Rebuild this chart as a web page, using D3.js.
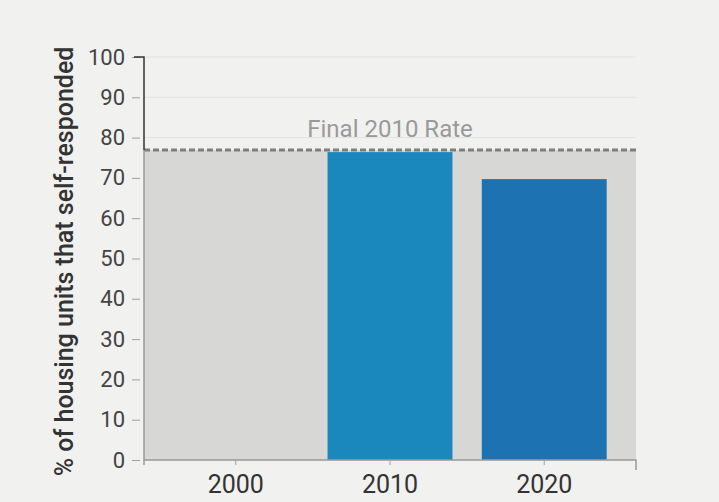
<!DOCTYPE html>
<html>
<head>
<meta charset="utf-8">
<script src="https://cdn.jsdelivr.net/npm/d3@7"></script>
<style>
  html, body { margin: 0; padding: 0; background: #f1f1f0; }
  svg { display: block; font-family: Roboto, "Noto Sans", sans-serif; }
</style>
</head>
<body>
<svg id="chart" width="719" height="502"></svg>
<script>
// Census years and self-response rates (%)
const years = ['2000', '2010', '2020'];
const rates = [null, 76.4, 69.7];
const barColors = ['#1a87bd', '#1a87bd', '#1d72b1'];
const finalRate2010 = 76.9;
const yTicks = [0, 10, 20, 30, 40, 50, 60, 70, 80, 90, 100];
const yTitle = '% of housing units that self-responded';
const refLabel = 'Final 2010 Rate';

const width = 719;
const height = 502;
const margin = { top: 57, right: 83, bottom: 42, left: 144 };

const svg = d3.select('#chart');

const x = d3.scaleBand()
  .domain(years)
  .range([margin.left, width - margin.right])
  .paddingInner(0.19)
  .paddingOuter(0.19);

const y = d3.scaleLinear()
  .domain([0, 100])
  .range([height - margin.bottom, margin.top]);

const plotLeft = margin.left;
const plotRight = width - margin.right;

// faint grid lines
svg.append('g')
  .selectAll('line')
  .data(yTicks)
  .join('line')
  .attr('x1', plotLeft)
  .attr('x2', plotRight)
  .attr('y1', d => y(d))
  .attr('y2', d => y(d))
  .attr('stroke', '#e3e3e3')
  .attr('stroke-width', 1);

// gray region up to the final 2010 rate
svg.append('rect')
  .attr('x', plotLeft)
  .attr('y', y(finalRate2010))
  .attr('width', plotRight - plotLeft)
  .attr('height', y(0) - y(finalRate2010))
  .attr('fill', '#d7d7d6');

// bars
const bars = years.map((yr, i) => ({ year: yr, value: rates[i], color: barColors[i] }))
  .filter(d => d.value != null);

svg.append('g')
  .selectAll('rect')
  .data(bars)
  .join('rect')
  .attr('x', d => x(d.year))
  .attr('y', d => y(d.value))
  .attr('width', x.bandwidth())
  .attr('height', d => y(0) - y(d.value))
  .attr('fill', d => d.color);

// reference dashed line
svg.append('line')
  .attr('x1', plotLeft)
  .attr('x2', plotRight + 2)
  .attr('y1', y(finalRate2010))
  .attr('y2', y(finalRate2010))
  .attr('stroke', '#7f7f7f')
  .attr('stroke-width', 3)
  .attr('stroke-dasharray', '6,3');

svg.append('text')
  .attr('x', x('2010') + x.bandwidth() / 2)
  .attr('y', y(finalRate2010) - 13)
  .attr('text-anchor', 'middle')
  .attr('fill', '#9a9a9a')
  .style('font-size', '24px')
  .text(refLabel);

// y axis
const yAxis = d3.axisLeft(y)
  .tickValues(yTicks)
  .tickSize(8)
  .tickPadding(11);

const gy = svg.append('g')
  .attr('transform', `translate(${plotLeft},0)`)
  .call(yAxis);
gy.select('.domain').remove();
gy.selectAll('.tick line').attr('stroke', '#a0a0a0').attr('x2', -12).attr('x1', -4);
gy.selectAll('.tick text')
  .attr('fill', '#444')
  .style('font-size', '22px')
  .style('font-family', 'Roboto, sans-serif');

// dark axis segment from 100 down to the reference line, gray below
svg.append('path')
  .attr('d', `M${plotLeft - 10},${y(100)}H${plotLeft}V${y(finalRate2010)}`)
  .attr('fill', 'none')
  .attr('stroke', '#333')
  .attr('stroke-width', 1.5);
svg.append('line')
  .attr('x1', plotLeft)
  .attr('x2', plotLeft)
  .attr('y1', y(finalRate2010))
  .attr('y2', y(0) + 5)
  .attr('stroke', '#9a9a9a')
  .attr('stroke-width', 1.5);

// x axis
const xAxis = d3.axisBottom(x)
  .tickSize(5)
  .tickPadding(10);

const gx = svg.append('g')
  .attr('transform', `translate(0,${y(0)})`)
  .call(xAxis);
gx.select('.domain')
  .attr('stroke', '#9a9a9a')
  .attr('stroke-width', 1.5)
  .attr('d', `M${plotLeft},0H${plotRight}V10`);
gx.selectAll('.tick line').attr('stroke', '#a0a0a0');
gx.selectAll('.tick text')
  .attr('fill', '#333')
  .style('font-size', '25px')
  .style('font-family', 'Roboto, sans-serif');

// y axis title
svg.append('text')
  .attr('transform', `translate(73,${(margin.top + height - margin.bottom) / 2 + 3}) rotate(-90)`)
  .attr('text-anchor', 'middle')
  .attr('fill', '#333')
  .style('font-size', '25px')
  .style('font-weight', '500')
  .text(yTitle);
</script>
</body>
</html>
